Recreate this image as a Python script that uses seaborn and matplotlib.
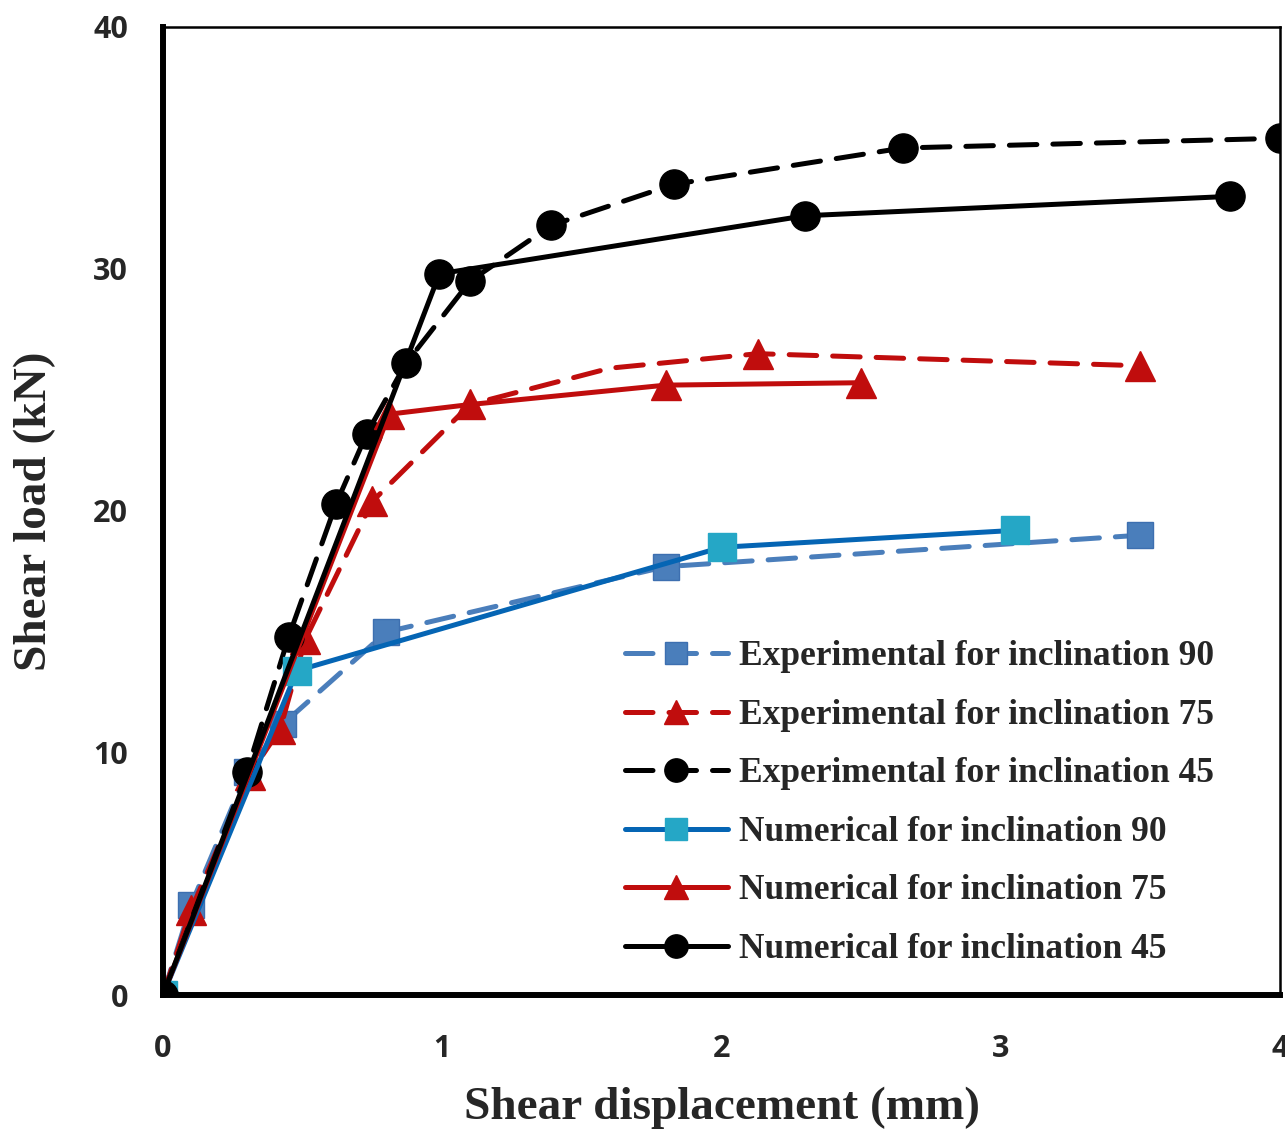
import pandas as pd
import matplotlib
matplotlib.use("Agg")
import matplotlib.pyplot as plt
import seaborn as sns

# DATA
# ------------------------------------
exp90_x = [0, 0.1, 0.3, 0.43, 0.8, 1.8, 3.5]
exp90_y = [0, 3.7, 9.2, 11.2, 15.0, 17.7, 19.0]

exp75_x = [0, 0.1, 0.31, 0.42, 0.51, 0.75, 1.1, 1.6, 2.13, 3.5]
exp75_y = [0, 3.5, 9.1, 11.0, 14.7, 20.4, 24.4, 25.9, 26.5, 26.0]
exp75_mark = [True, True, True, True, True, True, False, False, True, True]

exp45_x = [0, 0.3, 0.45, 0.62, 0.73, 0.87, 1.1, 1.39, 1.83, 2.65, 4.0]
exp45_y = [0, 9.2, 14.8, 20.3, 23.2, 26.1, 29.5, 31.8, 33.5, 35.0, 35.4]

num90_x = [0, 0.48, 2.0, 3.05]
num90_y = [0, 13.4, 18.5, 19.2]

num75_x = [0, 0.81, 1.1, 1.8, 2.5]
num75_y = [0, 24.0, 24.4, 25.2, 25.3]

num45_x = [0, 0.99, 2.3, 3.82]
num45_y = [0, 29.8, 32.2, 33.0]

labels = ["Experimental for inclination 90", "Experimental for inclination 75",
          "Experimental for inclination 45", "Numerical for inclination 90",
          "Numerical for inclination 75", "Numerical for inclination 45"]

x_ticks = [0, 1, 2, 3, 4]
y_ticks = [0, 10, 20, 30, 40]

# STYLE
# -----
sns.set_style("white")
plt.rcParams['font.family'] = ['Liberation Serif', 'DejaVu Serif']

fig = plt.figure(figsize=(12.85, 11.33), dpi=100)
ax = fig.add_axes([0.1268, 0.1218, 0.8694, 0.8544])

series = [
    # x, y, line colour, marker, marker face, marker edge, dashed?, marker size, markevery
    (exp90_x, exp90_y, "#4a7ebb", "s", "#4a7ebb", "#3d6fb0", True, 19, None),
    (exp75_x, exp75_y, "#c00d0d", "^", "#c00d0d", "#c00d0d", True, 21, exp75_mark),
    (exp45_x, exp45_y, "black", "o", "black", "black", True, 21, None),
    (num90_x, num90_y, "#0565b4", "s", "#25a7c6", "#25a7c6", False, 20, None),
    (num75_x, num75_y, "#c00d0d", "^", "#c00d0d", "#c00d0d", False, 21, None),
    (num45_x, num45_y, "black", "o", "black", "black", False, 21, None),
]

for (xs, ys, col, mk, mfc, mec, dashed, ms, every), lab in zip(series, labels):
    df = pd.DataFrame({"x": xs, "y": ys})
    sns.lineplot(data=df, x="x", y="y", ax=ax, sort=False, color=col,
                 marker=mk, markersize=ms, markerfacecolor=mfc,
                 markeredgecolor=mec, markeredgewidth=1, linewidth=3.6,
                 label=lab, estimator=None)
    line = ax.lines[-1]
    if every is not None:
        line.set_markevery(every)
    if dashed:
        line.set_dashes((5.5, 3.2))
        line.set_dash_capstyle("round")
    line.set_solid_capstyle("round")

# AXES
# ----
ax.set_xlim(0, 4)
ax.set_ylim(0, 40)
ax.set_xticks(x_ticks)
ax.set_yticks(y_ticks)
ax.tick_params(axis="both", which="major", direction="inout", length=12,
               width=4, labelsize=22, color="black")
ax.tick_params(axis="x", pad=22)
ax.tick_params(axis="y", pad=19)
for lbl in ax.get_xticklabels() + ax.get_yticklabels():
    lbl.set_family(["Open Sans", "DejaVu Sans"])
    lbl.set_fontweight("bold")

for side in ["left", "bottom"]:
    ax.spines[side].set_linewidth(4.3)
    ax.spines[side].set_color("black")
for side in ["top", "right"]:
    ax.spines[side].set_linewidth(1.8)
    ax.spines[side].set_color("black")

ax.set_xlabel("Shear displacement (mm)", fontsize=34, fontweight="bold", labelpad=16)
ax.set_ylabel("Shear load (kN)", fontsize=34, fontweight="bold", labelpad=27)

leg = ax.legend(loc="lower left", bbox_to_anchor=(0.4136, 0.03), frameon=False,
                prop={"family": "Liberation Serif", "weight": "bold", "size": 25.5},
                handlelength=2.9, handletextpad=0.33, labelspacing=0.72,
                borderpad=0, borderaxespad=0, numpoints=1, markerscale=0.8)

plt.savefig("out.png", dpi=100)
